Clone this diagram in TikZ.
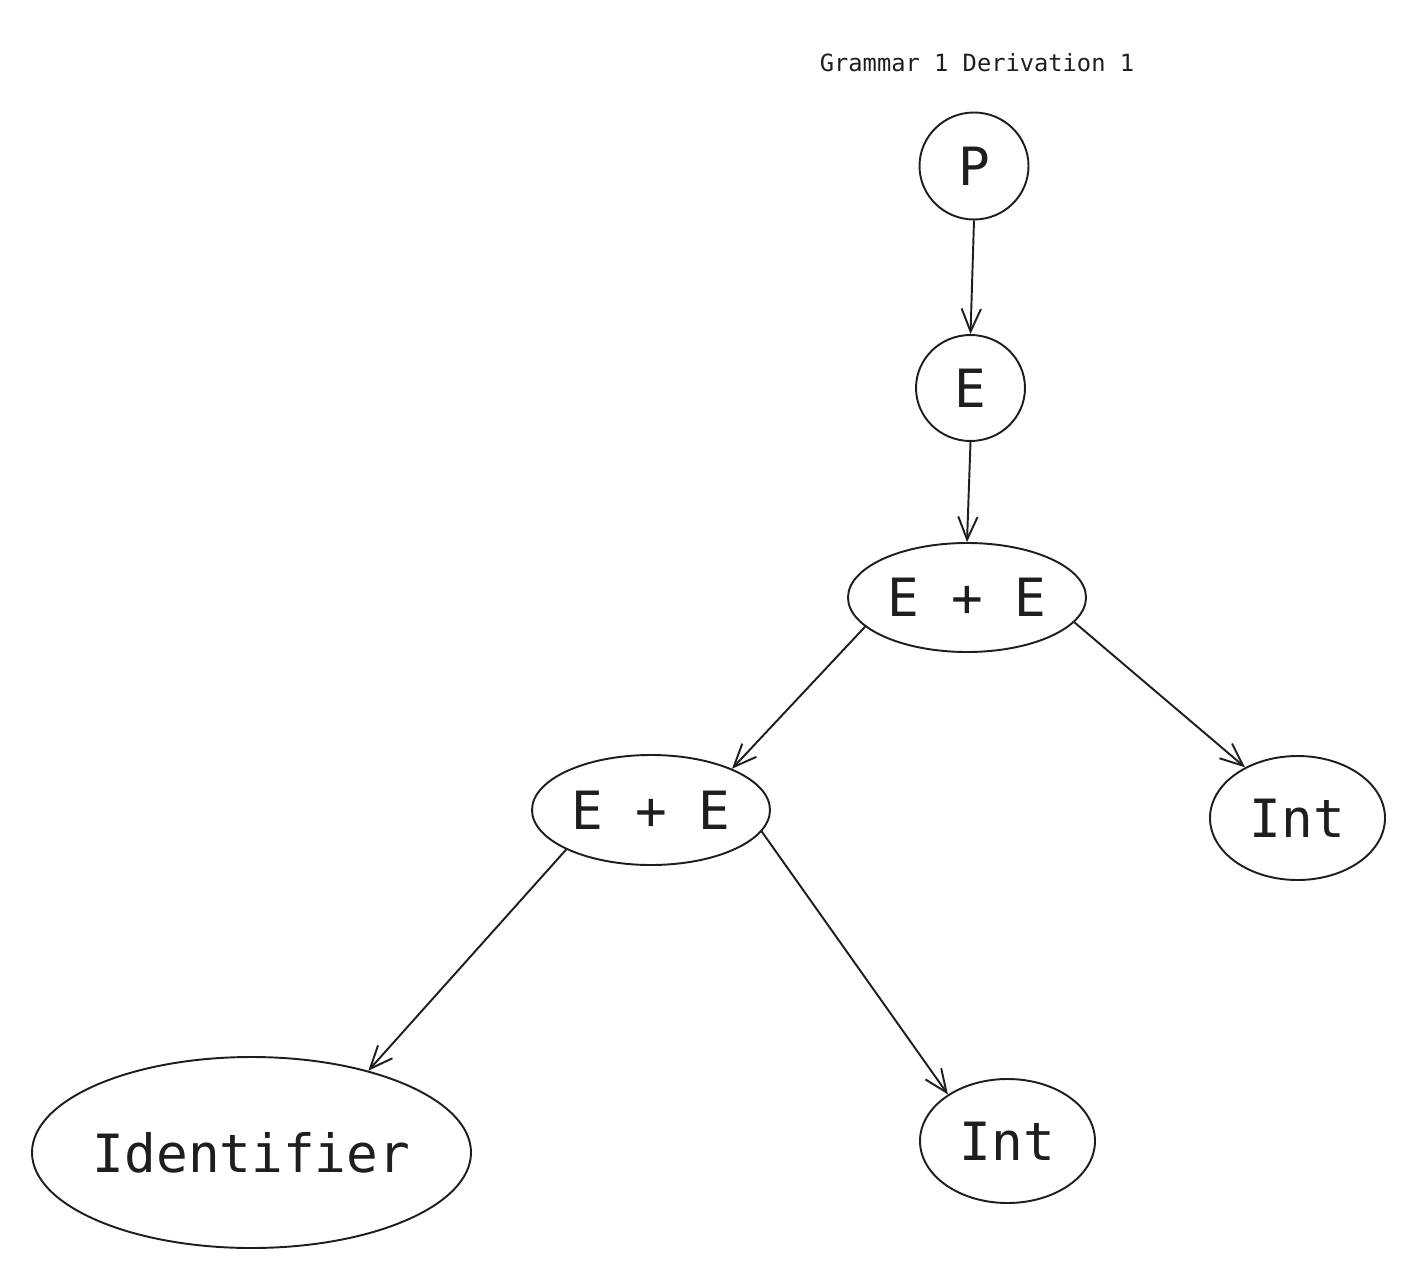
\documentclass[tikz,border=0pt]{standalone}
\usepackage{fontspec}
\setmonofont{DejaVu Sans Mono}
\usetikzlibrary{shapes.geometric,arrows.meta}
\definecolor{ink}{HTML}{1E1E1E}
\begin{document}
\begin{tikzpicture}[
    ink, line width=1.1pt,
    every node/.style={font=\ttfamily\fontsize{30}{34}\selectfont, text=ink},
    derivnode/.style={draw, ellipse, inner sep=0pt},
    derivedge/.style={-{Straight Barb[length=13pt,width=11pt]}}
  ]
  \useasboundingbox (0,0) rectangle (28.12,-25.58);
  % title
  \node[font=\ttfamily\fontsize{13.5}{16}\selectfont] (title) at (19.54,-1.26) {Grammar 1 Derivation 1};
  % derivation tree
  \node[derivnode, minimum width=2.18cm, minimum height=2.14cm] (P) at (19.48,-3.32) {P};
  \node[derivnode, minimum width=2.18cm, minimum height=2.12cm] (E) at (19.41,-7.76) {E};
  \node[derivnode, minimum width=4.76cm, minimum height=2.18cm] (sum1) at (19.34,-11.95) {E + E};
  \node[derivnode, minimum width=4.76cm, minimum height=2.2cm] (sum2) at (13.02,-16.2) {E + E};
  \node[derivnode, minimum width=3.5cm, minimum height=2.48cm] (int1) at (25.95,-16.36) {Int};
  \node[derivnode, inner xsep=-2pt, minimum width=8.78cm, minimum height=3.82cm] (ident) at (5.03,-23.05) {Identifier};
  \node[derivnode, minimum width=3.5cm, minimum height=2.48cm] (int2) at (20.15,-22.82) {Int};
  % edges
  \draw[derivedge] (P.south) -- (E.north);
  \draw[derivedge] (E.south) -- (sum1.north);
  \draw[derivedge] (sum1.196) -- (sum2.27);
  \draw[derivedge] (sum1.347) -- (int1.136);
  \draw[derivedge] (sum2.205) -- (ident.35);
  \draw[derivedge] (sum2.349) -- (int2.142);
\end{tikzpicture}
\end{document}
